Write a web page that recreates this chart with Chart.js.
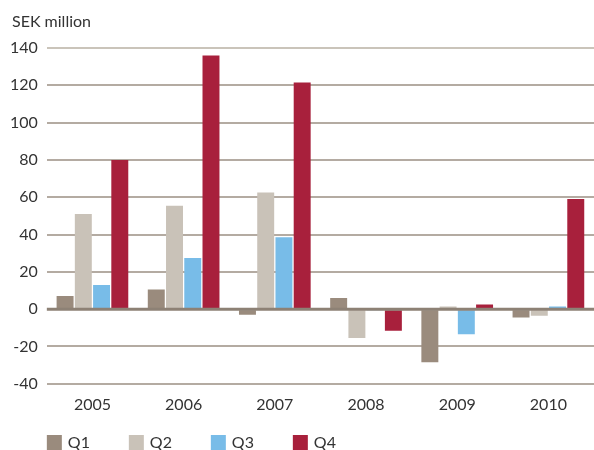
<!DOCTYPE html>
<html>
<head>
<meta charset="utf-8">
<script src="https://cdn.jsdelivr.net/npm/chart.js@4"></script>
<style>
  html, body { margin: 0; padding: 0; background: #ffffff; }
  #wrap { width: 594px; height: 450px; position: relative; }
</style>
</head>
<body>
<div id="wrap"><canvas id="c" width="594" height="450"></canvas></div>
<script>
const years = ['2005', '2006', '2007', '2008', '2009', '2010'];
const q1 = [7, 10.5, -3, 6, -28.5, -4.5];
const q2 = [51, 55.5, 62.5, -15.5, 1.5, -3.5];
const q3 = [13, 27.5, 38.5, -0.5, -13.5, 1.5];
const q4 = [80, 136, 121.5, -11.5, 2.5, 59];
const seriesNames = ['Q1', 'Q2', 'Q3', 'Q4'];
const seriesColors = ['#9a8b7d', '#c9c2b8', '#78bce8', '#a8203c'];
const yTitle = 'SEK million';

const FONT = 'Lato, "Open Sans", sans-serif';

const zeroLinePlugin = {
  id: 'zeroLine',
  afterDatasetsDraw(chart) {
    const y = chart.scales.y.getPixelForValue(0);
    const ctx = chart.ctx;
    ctx.save();
    ctx.strokeStyle = '#8d8175';
    ctx.lineWidth = 3;
    ctx.beginPath();
    ctx.moveTo(chart.chartArea.left, y);
    ctx.lineTo(chart.chartArea.right, y);
    ctx.stroke();
    ctx.restore();
  }
};

const titleLegendPlugin = {
  id: 'titleLegend',
  afterDraw(chart) {
    const ctx = chart.ctx;
    const left = chart.chartArea.left;
    ctx.save();
    ctx.font = '16px ' + FONT;
    ctx.textBaseline = 'middle';
    ctx.fillStyle = '#333333';
    ctx.fillText(yTitle, 12, 22);
    const yTop = chart.height - 15;
    chart.data.datasets.forEach((ds, i) => {
      const x = left + i * 82;
      ctx.fillStyle = ds.backgroundColor;
      ctx.fillRect(x, yTop, 15, 15);
      ctx.fillStyle = '#333333';
      ctx.fillText(ds.label, x + 21, yTop + 8);
    });
    ctx.restore();
  }
};

const datasets = [q1, q2, q3, q4].map((d, i) => ({
  label: seriesNames[i],
  data: d,
  backgroundColor: seriesColors[i],
  borderWidth: 0,
  categoryPercentage: 0.8,
  barPercentage: 0.93
}));

new Chart(document.getElementById('c'), {
  type: 'bar',
  data: { labels: years, datasets },
  options: {
    responsive: false,
    animation: false,
    layout: { padding: { left: 1, right: 0, top: 48, bottom: 25 } },
    plugins: {
      legend: { display: false },
      tooltip: { enabled: false },
      title: { display: false }
    },
    scales: {
      x: {
        grid: { display: false, drawTicks: false },
        border: { display: false },
        ticks: { color: '#333333', font: { family: FONT, size: 16 }, padding: 11 }
      },
      y: {
        min: -40,
        max: 140,
        grid: {
          drawTicks: false,
          lineWidth: 2,
          color: (c) => c.tick && c.tick.value === 0 ? 'rgba(0,0,0,0)' : (c.tick && c.tick.value === 140 ? '#cac4ba' : '#b4aba2')
        },
        border: { display: false },
        ticks: { stepSize: 20, color: '#333333', font: { family: FONT, size: 16 }, padding: 9 }
      }
    }
  },
  plugins: [zeroLinePlugin, titleLegendPlugin]
});
</script>
</body>
</html>
